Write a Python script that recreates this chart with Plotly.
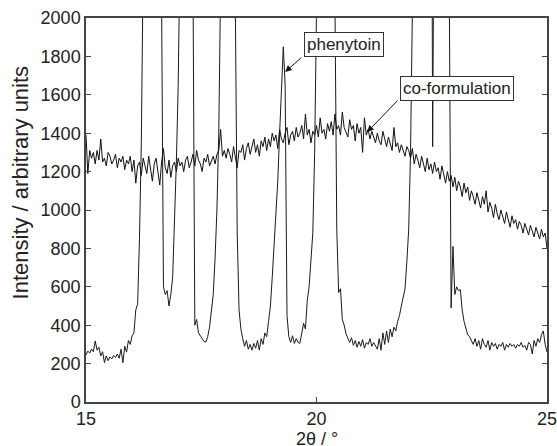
import plotly.graph_objects as go

# Scan grid: 2-theta from 15 to 25 degrees in 0.04 degree steps (251 positions)
scan_start = 15.0
scan_step = 0.04
two_theta = [round(scan_start + scan_step * i, 2) for i in range(251)]

# Phenytoin (crystalline) pattern; off-scale peaks estimated
phenytoin = [
    # 15.00 - 15.96
    245, 265, 255, 275, 262, 318, 270, 285, 240, 262, 205, 240, 215, 235, 225, 242, 232, 250, 228, 275, 205, 290, 260, 320, 300,
    # 16.00 - 16.96
    345, 360, 480, 510, 850, 1350, 1800, 2300, 3500, 5000, 4500, 3800, 3500, 3000, 2700, 2350, 2080, 600, 560, 580, 500, 560, 650, 900, 1250,
    # 17.00 - 17.96
    1650, 2050, 3000, 4000, 4500, 3800, 3200, 2700, 2250, 400, 430, 360, 345, 330, 315, 312, 340, 390, 470, 560, 750, 1000, 1400, 1850, 2300,
    # 18.00 - 18.96
    3500, 4500, 4000, 3200, 2700, 2350, 2050, 880, 480, 380, 330, 290, 320, 275, 300, 270, 305, 280, 320, 270, 330, 300, 360, 340, 420,
    # 19.00 - 19.96
    500, 650, 820, 1000, 1150, 1400, 1680, 1850, 1650, 450, 340, 310, 345, 305, 330, 310, 306, 360, 410, 380, 530, 600, 740, 880, 1300,
    # 20.00 - 20.96
    1800, 2200, 3500, 4500, 5000, 4800, 4000, 3300, 2800, 2400, 2100, 900, 570, 590, 430, 400, 355, 330, 310, 335, 295, 320, 285, 315, 290,
    # 21.00 - 21.96
    325, 280, 310, 300, 330, 290, 310, 295, 275, 330, 270, 360, 300, 370, 310, 380, 340, 390, 370, 420, 450, 500, 545, 590, 730,
    # 22.00 - 22.96
    900, 1300, 1700, 2100, 3000, 4000, 5000, 4800, 4200, 3800, 3500, 3800, 4200, 1330, 4500, 5000, 4500, 4000, 3500, 3000, 2700, 2400, 2150, 490, 810,
    # 23.00 - 23.96
    560, 600, 580, 585, 480, 420, 380, 350, 340, 320, 300, 330, 290, 320, 275, 330, 300, 285, 320, 270, 310, 290, 305, 275, 300,
    # 24.00 - 25.00
    290, 310, 270, 300, 285, 305, 290, 300, 280, 300, 290, 310, 285, 295, 270, 310, 300, 250, 320, 290, 330, 310, 350, 370, 300,
    260,
]

# Co-formulation (amorphous halo) pattern
co_formulation = [
    # 15.00 - 15.96
    1390, 1190, 1310, 1270, 1300, 1240, 1310, 1260, 1370, 1250, 1270, 1230, 1300, 1280, 1240, 1260, 1290, 1220, 1270, 1250, 1280, 1210, 1260, 1240, 1280,
    # 16.00 - 16.96
    1200, 1260, 1140, 1230, 1250, 1180, 1270, 1230, 1190, 1280, 1210, 1150, 1240, 1270, 1200, 1130, 1250, 1320, 1220, 1190, 1260, 1170, 1230, 1250, 1200,
    # 17.00 - 17.96
    1270, 1230, 1250, 1200, 1260, 1280, 1220, 1250, 1290, 1230, 1310, 1260, 1240, 1200, 1270, 1250, 1290, 1230, 1260, 1280, 1240, 1290, 1310, 1420, 1280,
    # 18.00 - 18.96
    1310, 1270, 1320, 1290, 1250, 1330, 1280, 1220, 1310, 1300, 1340, 1260, 1320, 1350, 1290, 1330, 1370, 1300, 1340, 1280, 1360, 1330, 1380, 1310, 1370,
    # 19.00 - 19.96
    1330, 1400, 1360, 1390, 1320, 1420, 1370, 1350, 1400, 1430, 1340, 1390, 1410, 1360, 1430, 1380, 1400, 1440, 1370, 1500, 1390, 1420, 1350, 1410, 1390,
    # 20.00 - 20.96
    1440, 1380, 1480, 1400, 1420, 1370, 1450, 1410, 1460, 1390, 1500, 1420, 1440, 1390, 1510, 1430, 1400, 1380, 1470, 1420, 1440, 1360, 1450, 1400, 1430,
    # 21.00 - 21.96
    1300, 1480, 1390, 1420, 1370, 1410, 1380, 1350, 1400, 1360, 1340, 1410, 1370, 1330, 1380, 1350, 1310, 1430, 1330, 1350, 1300, 1340, 1310, 1280, 1330,
    # 22.00 - 22.96
    1310, 1270, 1320, 1240, 1290, 1260, 1220, 1280, 1230, 1200, 1270, 1210, 1240, 1190, 1250, 1200, 1220, 1160, 1230, 1190, 1140, 1200, 1150, 1180, 1120,
    # 23.00 - 23.96
    1170, 1100, 1150, 1120, 1070, 1140, 1090, 1120, 1050, 1100, 1070, 1030, 1090, 1040, 1010, 1070, 1030, 1100, 990, 1040, 1010, 960, 1030, 980, 950,
    # 24.00 - 25.00
    1000, 960, 930, 990, 940, 910, 970, 930, 950, 900, 940, 920, 880, 930, 900, 870, 920, 890, 860, 910, 880, 850, 900, 860, 880,
    800,
]

x_ticks = [15, 20, 25]
y_ticks = [0, 200, 400, 600, 800, 1000, 1200, 1400, 1600, 1800, 2000]

FONT = "Liberation Sans, Arial, Helvetica, sans-serif"
INK = "#222222"

fig = go.Figure()
fig.add_trace(go.Scatter(x=two_theta, y=phenytoin, mode="lines", name="phenytoin",
                         line=dict(color="#1a1a1a", width=1)))
fig.add_trace(go.Scatter(x=two_theta, y=co_formulation, mode="lines", name="co-formulation",
                         line=dict(color="#111111", width=1)))

annotations = [
    # label boxes
    dict(x=20.60, y=1862, xref="x", yref="y", text="phenytoin", showarrow=False,
         font=dict(family=FONT, size=17, color=INK), bgcolor="white",
         bordercolor="#333", borderwidth=1, borderpad=2),
    dict(x=23.05, y=1635, xref="x", yref="y", text="co-formulation", showarrow=False,
         font=dict(family=FONT, size=17, color=INK), bgcolor="white",
         bordercolor="#333", borderwidth=1, borderpad=2),
    # arrows
    dict(x=19.32, y=1719, ax=19.70, ay=1800, xref="x", yref="y", axref="x", ayref="y",
         text="", showarrow=True, arrowhead=2, arrowsize=1.3, arrowwidth=1, arrowcolor="#111"),
    dict(x=21.10, y=1406, ax=21.79, ay=1578, xref="x", yref="y", axref="x", ayref="y",
         text="", showarrow=True, arrowhead=2, arrowsize=1.3, arrowwidth=1, arrowcolor="#111"),
    # axis titles
    dict(x=-0.143, y=0.572, xref="paper", yref="paper", text="Intensity / arbitrary units",
         textangle=-90, showarrow=False, xanchor="center", yanchor="middle",
         font=dict(family=FONT, size=22, color=INK)),
    dict(x=0.5, y=-0.097, xref="paper", yref="paper", text="2θ / °",
         showarrow=False, xanchor="center", yanchor="middle",
         font=dict(family=FONT, size=18, color=INK)),
]

fig.update_layout(
    width=557, height=446,
    margin=dict(l=86, r=10, t=18, b=44),
    plot_bgcolor="white", paper_bgcolor="white",
    showlegend=False,
    font=dict(family=FONT, size=18, color=INK),
    annotations=annotations,
)
fig.update_xaxes(range=[15, 25], tickvals=x_ticks, ticktext=[str(v) for v in x_ticks],
                 ticks="inside", ticklen=5, tickcolor="#444", showline=True,
                 linecolor="#444", linewidth=1.5, mirror="ticks", showgrid=False,
                 zeroline=False, automargin=False, ticklabeloverflow="allow",
                 tickfont=dict(family=FONT, size=18, color=INK))
fig.update_yaxes(range=[0, 2000], tickvals=y_ticks, ticktext=[str(v) for v in y_ticks],
                 ticks="inside", ticklen=5, tickcolor="#444", showline=True,
                 linecolor="#444", linewidth=1.5, mirror="ticks", showgrid=False,
                 zeroline=False, automargin=False, ticklabeloverflow="allow",
                 tickfont=dict(family=FONT, size=18, color=INK))

# Remove the default page margin so the figure fills the window exactly.
fig.write_html(
    "out.html",
    config={"displayModeBar": False},
    post_script="document.documentElement.style.margin='0';"
                "document.body.style.margin='0';"
                "document.body.style.overflow='hidden';",
)
